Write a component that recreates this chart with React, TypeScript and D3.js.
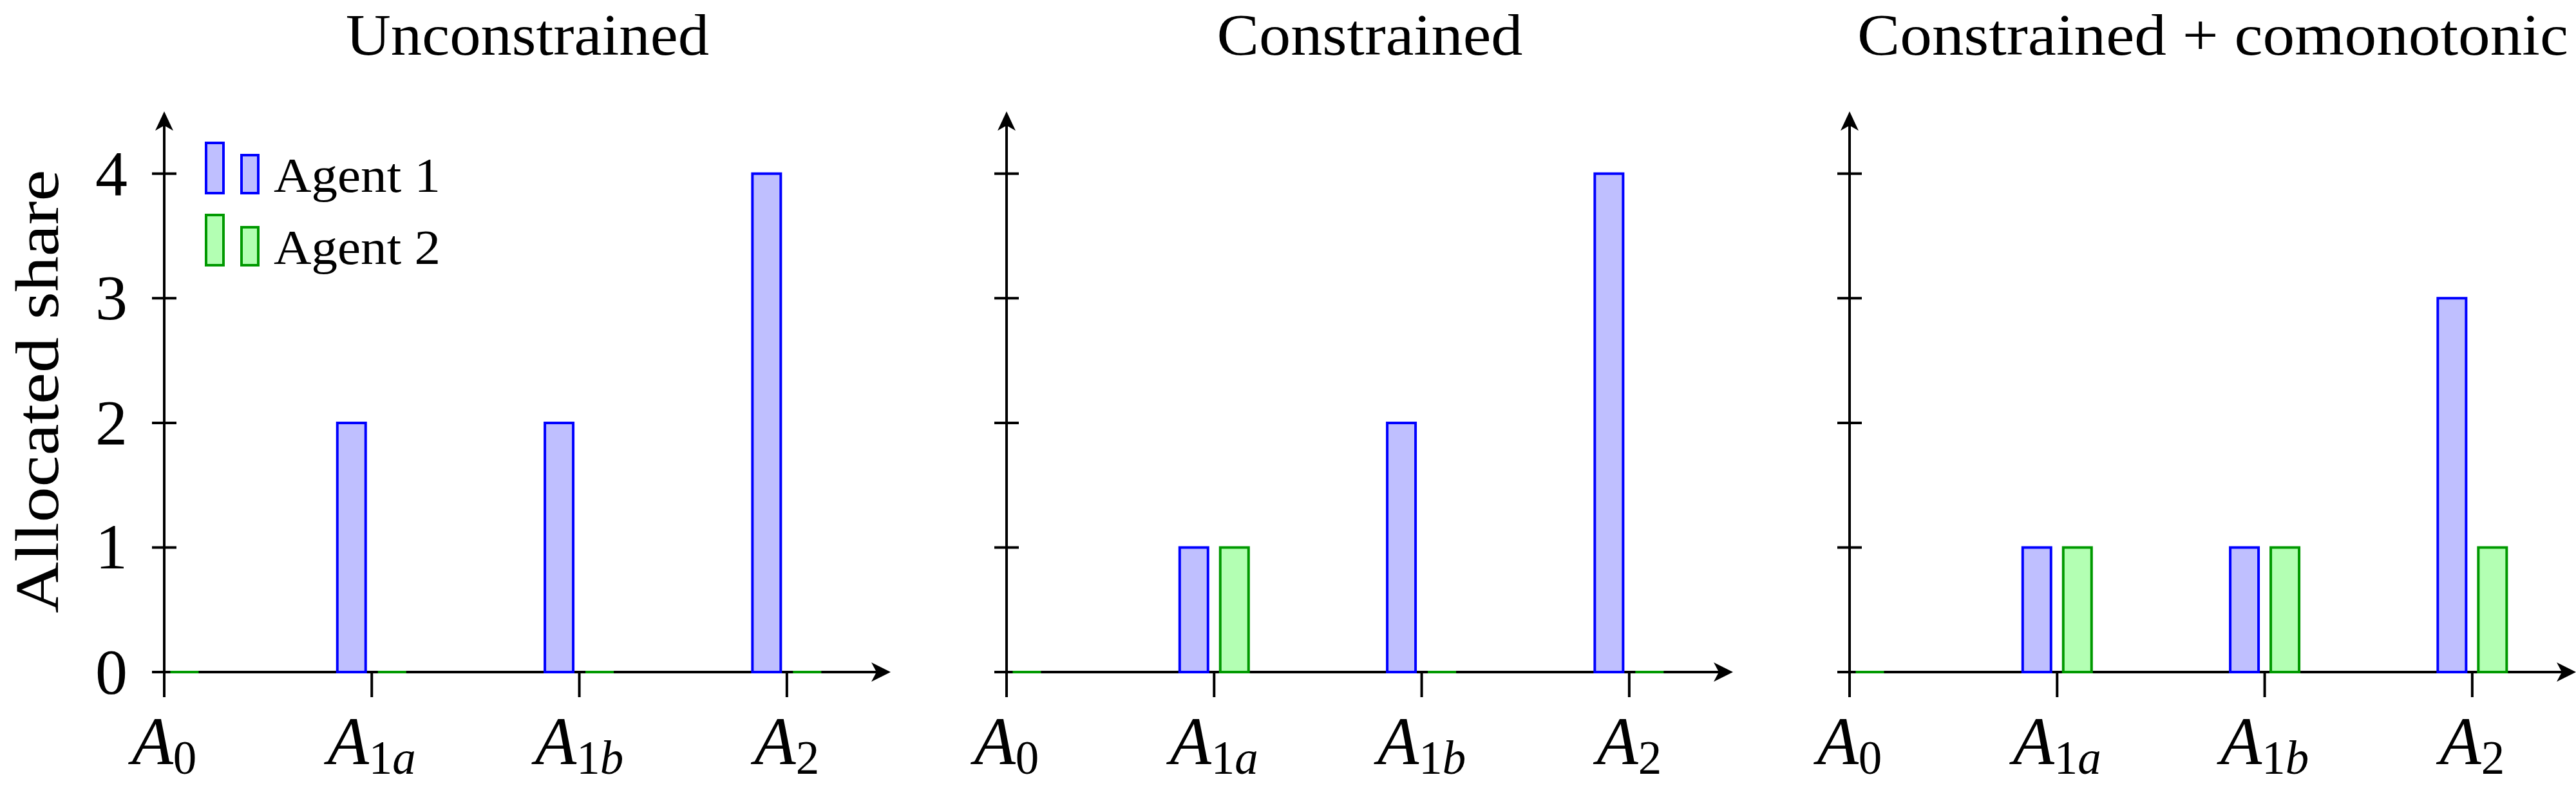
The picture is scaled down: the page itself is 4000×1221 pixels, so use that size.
import React from 'react';
import * as d3 from 'd3';

// chart values
const panelTitles = ['Unconstrained', 'Constrained', 'Constrained + comonotonic'];
const categories = ['0', '1a', '1b', '2'];
const agent1 = [
  [0, 2, 2, 4],
  [0, 1, 2, 4],
  [0, 1, 1, 3],
];
const agent2 = [
  [0, 0, 0, 0],
  [0, 1, 0, 0],
  [0, 1, 1, 1],
];
const yTicks = [0, 1, 2, 3, 4];
const seriesNames = ['Agent 1', 'Agent 2'];
const yLabel = 'Allocated share';

// layout
const W = 4000;
const H = 1221;
const panelLeft = [255, 1563, 2872];
const plotW = 1128;
const titleWidths = [564, 475, 1104];
const FONT = '"Liberation Serif", "DejaVu Serif", serif';

const series = [
  { name: seriesNames[0], values: agent1, stroke: '#0000ff', fill: '#bfbfff', shift: -31.5 },
  { name: seriesNames[1], values: agent2, stroke: '#009900', fill: '#b3ffb3', shift: 31.5 },
];

const x = d3.scaleLinear().domain([0, 3.5]).range([0, plotW]);
const y = d3.scaleLinear().domain([0, 4.5]).range([1044, 173]);
const barW = 44;

function barPath(cx: number, v: number) {
  const p = d3.path();
  const x0 = cx - barW / 2;
  p.moveTo(x0, y(0));
  p.lineTo(x0, y(v));
  p.lineTo(x0 + barW, y(v));
  p.lineTo(x0 + barW, y(0));
  p.closePath();
  return p.toString();
}

function TickLabel({ cat, cx }: { cat: string; cx: number }) {
  return (
    <text x={cx} y={1187} textAnchor="middle" fontSize={105} fontFamily={FONT}>
      <tspan fontStyle="italic">A</tspan>
      {cat.split('').map((ch, i) => (
        <tspan
          key={i}
          fontSize={73}
          dy={i === 0 ? 15 : 0}
          fontStyle={/[a-z]/.test(ch) ? 'italic' : 'normal'}
        >
          {ch}
        </tspan>
      ))}
    </text>
  );
}

function Panel({ idx }: { idx: number }) {
  const left = panelLeft[idx];
  const clipId = `clip-${idx}`;
  const y0 = y(0);
  const top = y(4.5);
  return (
    <g transform={`translate(${left},0)`}>
      <text
        x={plotW / 2}
        y={85}
        textAnchor="middle"
        fontSize={90}
        fontFamily={FONT}
        textLength={titleWidths[idx]}
        lengthAdjust="spacingAndGlyphs"
      >
        {panelTitles[idx]}
      </text>

      <clipPath id={clipId}>
        <rect x={0} y={0} width={plotW} height={H} />
      </clipPath>

      {/* axes */}
      <g stroke="#000" strokeWidth={4} fill="none">
        <line x1={0} x2={plotW - 20} y1={y0} y2={y0} />
        <line x1={0} x2={0} y1={y0} y2={top + 20} />
        {yTicks.map((t) => (
          <line key={t} x1={-19} x2={19} y1={y(t)} y2={y(t)} />
        ))}
        {categories.map((c, i) => (
          <line key={c} x1={x(i)} x2={x(i)} y1={y0} y2={y0 + 39} />
        ))}
      </g>
      <path d={`M${plotW},${y0} L${plotW - 30},${y0 - 15} L${plotW - 22},${y0} L${plotW - 30},${y0 + 15} Z`} fill="#000" />
      <path d={`M0,${top} L-14,${top + 30} L0,${top + 22} L14,${top + 30} Z`} fill="#000" />

      {/* bars */}
      <g clipPath={`url(#${clipId})`}>
        {series.map((s) => (
          <g key={s.name} stroke={s.stroke} fill={s.fill} strokeWidth={4}>
            {s.values[idx].map((v, i) => (
              <path key={i} d={barPath(x(i) + s.shift, v)} />
            ))}
          </g>
        ))}
      </g>

      {/* tick labels */}
      {idx === 0 &&
        yTicks.map((t) => (
          <text key={t} x={-57} y={y(t) + 33} textAnchor="end" fontSize={100} fontFamily={FONT}>
            {t}
          </text>
        ))}
      {categories.map((c, i) => (
        <TickLabel key={c} cat={c} cx={x(i)} />
      ))}

      {/* legend */}
      {idx === 0 &&
        series.map((s, i) => (
          <g key={s.name} transform={`translate(0,${i * 112})`}>
            <rect x={65} y={222} width={27} height={78} fill={s.fill} stroke={s.stroke} strokeWidth={4} />
            <rect x={120} y={241} width={26} height={59} fill={s.fill} stroke={s.stroke} strokeWidth={4} />
            <text x={170} y={298} fontSize={76} fontFamily={FONT} textLength={259} lengthAdjust="spacingAndGlyphs">
              {s.name}
            </text>
          </g>
        ))}
    </g>
  );
}

export default function App() {
  return (
    <svg
      width={W}
      height={H}
      viewBox={`0 0 ${W} ${H}`}
      style={{ position: 'absolute', left: 0, top: 0, background: '#fff' }}
    >
      <rect width={W} height={H} fill="#fff" />
      <text
        transform={`translate(90,608) rotate(-90)`}
        textAnchor="middle"
        fontSize={96}
        fontFamily={FONT}
        textLength={689}
        lengthAdjust="spacingAndGlyphs"
      >
        {yLabel}
      </text>
      {panelTitles.map((_, i) => (
        <Panel key={i} idx={i} />
      ))}
    </svg>
  );
}
